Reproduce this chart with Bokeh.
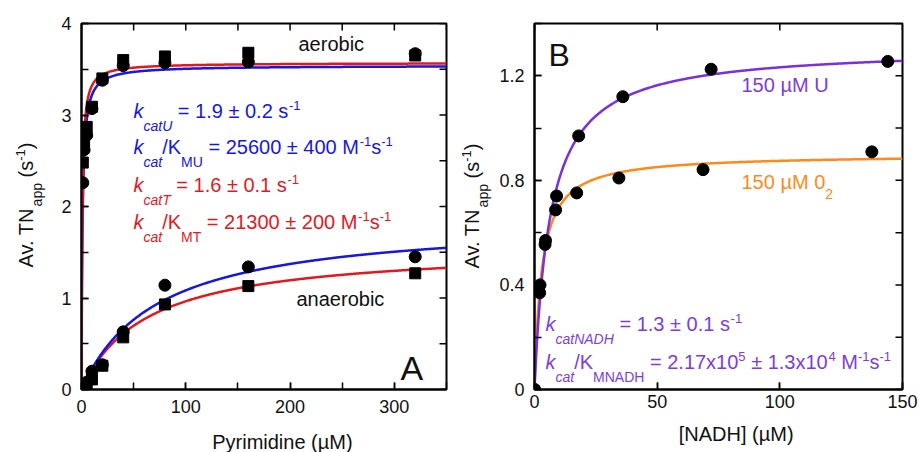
import numpy as np
from bokeh.plotting import figure
from bokeh.models import Label, FixedTicker, CustomJSTickFormatter, Range1d
from bokeh.layouts import row, column
from bokeh.embed import file_html
from bokeh.resources import INLINE

FONT = "Liberation Sans"

# ---------------- Panel A data ----------------
pyr_aer = [1.25, 2.5, 5, 10, 20, 40, 80, 160, 320]
aer_U = [2.26, 2.62, 2.78, 3.07, 3.38, 3.54, 3.57, 3.58, 3.67]
aer_T = [2.48, 2.71, 2.87, 3.09, 3.40, 3.60, 3.64, 3.68, 3.65]
pyr_ana = [0, 2.5, 5, 10, 20, 40, 80, 160, 320]
ana_U = [0, 0.03, 0.08, 0.20, 0.27, 0.63, 1.14, 1.34, 1.45]
ana_T = [0, 0.01, 0.06, 0.11, 0.26, 0.57, 0.93, 1.13, 1.27]
# Michaelis-Menten fit parameters (Vmax, Km)
fit_aer_U = (3.54, 1.0)
fit_aer_T = (3.57, 0.75)
fit_ana_U = (1.87, 72.6)
fit_ana_T = (1.567, 62.5)

# ---------------- Panel B data ----------------
nadh_U = [0, 2.25, 4.5, 9, 18, 36, 72, 144]
tn_U = [0, 0.40, 0.57, 0.74, 0.97, 1.12, 1.225, 1.255]
nadh_O2 = [0, 2.1, 4.3, 8.6, 17.2, 34.4, 68.7, 137.5]
tn_O2 = [0, 0.37, 0.555, 0.687, 0.752, 0.809, 0.841, 0.909]
fit_U = (1.31, 6.3)
fit_O2 = (0.90, 2.9)

A_xticks = [0, 100, 200, 300]
A_xminor = [0, 50, 100, 150, 200, 250, 300, 350]
A_yticks = [0, 1, 2, 3, 4]
A_yminor = [0, 0.5, 1, 1.5, 2, 2.5, 3, 3.5, 4]
B_xticks = [0, 50, 100, 150]
B_yticks = [0, 0.4, 0.8, 1.2]
B_yminor = [0, 0.2, 0.4, 0.6, 0.8, 1.0, 1.2, 1.4]

BLUE = "#1717e0"
RED = "#e3181f"
PURPLE = "#7a2fe0"
PURPLE_T = "#7d3ddc"
ORANGE = "#ff8a1c"
INK = "#111111"

# Arial / Liberation Sans advance widths (per 1000 em)
W = {' ': 278, '(': 333, ')': 333, '-': 333, '.': 278, '/': 278, '=': 584, '±': 584,
     '[': 278, ']': 278, 'µ': 576, 'x': 500,
     'A': 667, 'B': 667, 'D': 722, 'H': 722, 'K': 667, 'M': 833, 'N': 722, 'P': 667,
     'T': 611, 'U': 722, 'a': 556, 'b': 556, 'c': 500, 'd': 556, 'e': 556, 'i': 222,
     'k': 500, 'm': 833, 'n': 556, 'o': 556, 'p': 556, 'r': 333, 's': 500, 't': 278,
     'v': 500, 'y': 500}
# the label anchor sits this fraction of the font size above the drawn baseline
BASE_FIX = 0.347


def tw(s, size):
    return sum(W.get(c, 556) for c in s) * size / 1000.0


def make_conv(FL, FT, FW, FH, xr, yr):
    def conv(px, py):
        x = xr[0] + (px - FL) / FW * (xr[1] - xr[0])
        y = yr[0] + (FT + FH - py) / FH * (yr[1] - yr[0])
        return x, y
    return conv


def rich(p, conv, px, py, segs, color, angle=0.0, align="left"):
    total = 0.0
    for text, size, italic, shift in segs:
        total += tw(text, size)
    pos = -total / 2 if align == "center" else 0.0
    for text, size, italic, shift in segs:
        lead = len(text) - len(text.lstrip(' '))
        pos += lead * W[' '] * size / 1000.0
        core = text.strip(' ')
        if angle == 0:
            sx, sy = px + pos, py + shift - BASE_FIX * size
        else:
            sx, sy = px + shift - BASE_FIX * size, py - pos
        x, y = conv(sx, sy)
        p.add_layout(Label(x=x, y=y, text=core, text_font=FONT,
                           text_font_size=f"{size}px",
                           text_font_style="italic" if italic else "normal",
                           text_color=color, text_align="left",
                           text_baseline="alphabetic", angle=angle))
        pos += tw(core, size)
        trail = len(text) - len(text.rstrip(' '))
        pos += trail * W[' '] * size / 1000.0


def strip(width, height, xr, yr):
    s = figure(width=width, height=height, x_range=Range1d(*xr), y_range=Range1d(*yr),
               min_border=0, x_axis_location=None, y_axis_location=None,
               output_backend="svg", toolbar_location=None)
    s.grid.visible = False
    s.outline_line_color = None
    s.background_fill_color = "white"
    s.border_fill_color = "white"
    return s


def style(p, xt, xm, yt, ym, xstand, ystand, xr, yr, FW, FH, yfmt=None):
    p.grid.visible = False
    p.outline_line_color = "black"
    p.outline_line_width = 2
    p.background_fill_color = "white"
    p.border_fill_color = "white"
    for ax, ticks, minor, stand in ((p.xaxis[0], xt, xm, xstand), (p.yaxis[0], yt, ym, ystand)):
        ax.ticker = FixedTicker(ticks=ticks, minor_ticks=minor)
        ax.axis_line_width = 2
        ax.axis_line_color = "black"
        ax.major_tick_in = 7
        ax.major_tick_out = 0
        ax.minor_tick_in = 7
        ax.minor_tick_out = 0
        ax.major_tick_line_width = 1.5
        ax.minor_tick_line_width = 1.5
        ax.major_tick_line_color = "black"
        ax.minor_tick_line_color = "black"
        ax.major_label_text_font = FONT
        ax.major_label_text_font_size = "18px"
        ax.major_label_text_color = INK
        ax.major_label_standoff = stand
        ax.axis_label = None
    if yfmt is not None:
        p.yaxis[0].formatter = yfmt
    # mirrored inward ticks on the top and right edges of the box
    dy = 7.0 * (yr[1] - yr[0]) / FH
    dx = 7.0 * (xr[1] - xr[0]) / FW
    p.segment(x0=xm, y0=[yr[1]] * len(xm), x1=xm, y1=[yr[1] - dy] * len(xm),
              line_color="black", line_width=1.5)
    p.segment(x0=[xr[1]] * len(ym), y0=ym, x1=[xr[1] - dx] * len(ym), y1=ym,
              line_color="black", line_width=1.5)


H = 452
SUB = 13
SUP = -7
YT = [("Av. TN", 20, False, 0), ("app", 14, False, 9), (" (s", 20, False, 0),
      ("-1", 13, False, -7), (")", 20, False, 0)]


def mm(params, x):
    v, k = params
    return v * x / (k + x)


# ---------------- y-title strip for A ----------------
TA_W = 46
tA = strip(TA_W, H, (0, TA_W), (H, 0))
rich(tA, lambda px, py: (px, py), 32, 267, YT, INK, angle=np.pi / 2)

# ---------------- Panel A ----------------
A_FL, A_FT, A_FW, A_FH = 81, 23, 365, 366
A_H = 425
pA = figure(x_range=Range1d(0, 350), y_range=Range1d(0, 4),
            frame_width=A_FW, frame_height=A_FH,
            min_border_left=A_FL - TA_W, min_border_right=10, min_border_top=A_FT,
            min_border_bottom=A_H - A_FT - A_FH,
            output_backend="svg", toolbar_location=None)
style(pA, A_xticks, A_xminor, A_yticks, A_yminor, 10, 10, (0, 350), (0, 4), A_FW, A_FH)
convA = make_conv(A_FL, A_FT, A_FW, A_FH, (0, 350), (0, 4))

xf = np.concatenate([np.linspace(0, 5, 300), np.linspace(5, 350, 500)])
pA.line(xf, mm(fit_ana_T, xf), line_color=RED, line_width=2.5)
pA.line(xf, mm(fit_ana_U, xf), line_color=BLUE, line_width=2.5)
pA.line(xf, mm(fit_aer_U, xf), line_color=BLUE, line_width=2.5)
pA.line(xf, mm(fit_aer_T, xf), line_color=RED, line_width=2.5)

pA.scatter(pyr_aer, aer_U, marker="circle", size=12, color="black")
pA.scatter(pyr_aer, aer_T, marker="square", size=11, color="black")
pA.scatter(pyr_ana, ana_U, marker="circle", size=12, color="black")
pA.scatter(pyr_ana, ana_T, marker="square", size=11, color="black")

rich(pA, convA, 298, 50, [("aerobic", 20, False, 0)], INK)
rich(pA, convA, 296, 305, [("anaerobic", 20, False, 0)], INK)
rich(pA, convA, 400, 379, [("A", 34, False, 0)], INK)

rich(pA, convA, 133, 117, [("k", 20, True, 0), ("catU", 14, True, SUB),
                           (" = 1.9 ± 0.2 s", 20, False, 0), ("-1", 13, False, SUP)], BLUE)
rich(pA, convA, 133, 153, [("k", 20, True, 0), ("cat", 14, True, SUB), ("/K", 20, False, 0),
                           ("MU", 14, False, SUB), (" = 25600 ± 400 M", 20, False, 0),
                           ("-1", 13, False, SUP), ("s", 20, False, 0), ("-1", 13, False, SUP)], BLUE)
rich(pA, convA, 133, 191, [("k", 20, True, 0), ("catT", 14, True, SUB),
                           (" = 1.6 ± 0.1 s", 20, False, 0), ("-1", 13, False, SUP)], RED)
rich(pA, convA, 133, 228, [("k", 20, True, 0), ("cat", 14, True, SUB), ("/K", 20, False, 0),
                           ("MT", 14, False, SUB), (" = 21300 ± 200 M", 20, False, 0),
                           ("-1", 13, False, SUP), ("s", 20, False, 0), ("-1", 13, False, SUP)], RED)

# x-title strip for A
A_W = (A_FL - TA_W) + A_FW + 10
botA = strip(A_W, H - A_H, (TA_W, TA_W + A_W), (H, A_H))
rich(botA, lambda px, py: (px, py), 263, 448, [("Pyrimidine (µM)", 20, False, 0)], INK, align="center")

# ---------------- y-title strip for B ----------------
TB_L = TA_W + A_W
TB_W = 38
tB = strip(TB_W, H, (0, TB_W), (H, 0))
rich(tB, lambda px, py: (px - TB_L, py), 478, 268, YT, INK, angle=np.pi / 2)

# ---------------- Panel B ----------------
B_FL, B_FT, B_FW, B_FH = 534, 23, 368, 366
B_H = 418
pB = figure(x_range=Range1d(0, 150), y_range=Range1d(0, 1.4),
            frame_width=B_FW, frame_height=B_FH,
            min_border_left=B_FL - TB_L - TB_W, min_border_right=17, min_border_top=B_FT,
            min_border_bottom=B_H - B_FT - B_FH,
            output_backend="svg", toolbar_location=None)
fmtB = CustomJSTickFormatter(code="return tick == 0 ? '0' : tick.toFixed(1);")
style(pB, B_xticks, B_xticks, B_yticks, B_yminor, 5, 10, (0, 150), (0, 1.4), B_FW, B_FH, yfmt=fmtB)
convB = make_conv(B_FL, B_FT, B_FW, B_FH, (0, 150), (0, 1.4))

xb = np.concatenate([np.linspace(0, 5, 300), np.linspace(5, 150, 400)])
pB.line(xb, mm(fit_O2, xb), line_color=ORANGE, line_width=2.5)
pB.line(xb, mm(fit_U, xb), line_color=PURPLE, line_width=2.5)
pB.scatter(nadh_O2, tn_O2, marker="circle", size=12, color="black")
pB.scatter(nadh_U, tn_U, marker="circle", size=12, color="black")

rich(pB, convB, 548, 66, [("B", 32, False, 0)], INK)
rich(pB, convB, 741, 91, [("150 µM U", 20, False, 0)], PURPLE_T)
rich(pB, convB, 741, 188, [("150 µM 0", 20, False, 0), ("2", 14, False, 10)], ORANGE)
rich(pB, convB, 545, 330, [("k", 20, True, 0), ("catNADH", 14, True, SUB),
                           (" = 1.3 ± 0.1 s", 20, False, 0), ("-1", 13, False, SUP)], PURPLE_T)
rich(pB, convB, 545, 368, [("k", 20, True, 0), ("cat", 14, True, SUB), ("/K", 20, False, 0),
                           ("MNADH", 14, False, SUB), (" = 2.17x10", 20, False, 0),
                           ("5", 13, False, SUP), (" ± 1.3x10", 20, False, 0), ("4", 13, False, SUP),
                           (" M", 20, False, 0), ("-1", 13, False, SUP), ("s", 20, False, 0),
                           ("-1", 13, False, SUP)], PURPLE_T)

# x-title strip for B
B_L = TB_L + TB_W
B_W = (B_FL - B_L) + B_FW + 17
botB = strip(B_W, H - B_H, (B_L, B_L + B_W), (H, B_H))
rich(botB, lambda px, py: (px, py), 718, 440, [("[NADH] (µM)", 20, False, 0)], INK, align="center")

layout = row(tA, column(pA, botA, spacing=0), tB, column(pB, botB, spacing=0), spacing=0)
open("out.html", "w").write(file_html(layout, INLINE))
